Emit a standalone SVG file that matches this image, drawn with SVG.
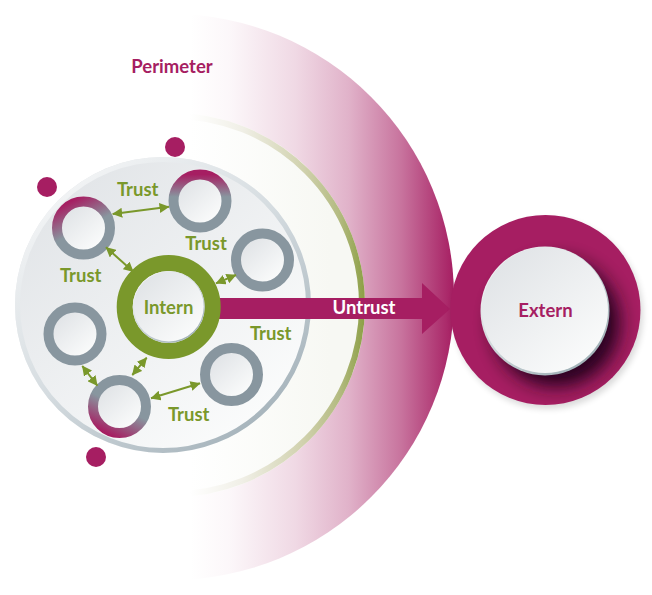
<svg xmlns="http://www.w3.org/2000/svg" width="652" height="595" viewBox="0 0 652 595">
<style>
.lbl{font-family:Lato,"Noto Sans","Liberation Sans",sans-serif;font-weight:700;text-anchor:middle}
.g{fill:#7a982b;font-size:18.500px}
.m{fill:#a61e62;font-size:18.500px}
.w{fill:#fff;font-size:18.500px}
.ring{fill:none;stroke-width:10}
.face{fill:url(#face)}
.conn{stroke:#7a982b;stroke-width:2;fill:none;marker-start:url(#ah);marker-end:url(#ah)}
</style>
<defs>
<linearGradient id="halo" gradientUnits="userSpaceOnUse" x1="190" y1="0" x2="454" y2="0">
<stop offset="0" stop-color="#a61e62" stop-opacity="0"/><stop offset=".15" stop-color="#a61e62" stop-opacity=".035"/><stop offset=".4" stop-color="#a61e62" stop-opacity=".17"/><stop offset=".6" stop-color="#a61e62" stop-opacity=".34"/><stop offset=".8" stop-color="#a61e62" stop-opacity=".62"/><stop offset="1" stop-color="#a61e62"/>
</linearGradient>
<linearGradient id="inner" gradientUnits="userSpaceOnUse" x1="190" y1="0" x2="330" y2="0">
<stop offset="0" stop-color="#fff"/><stop offset="1" stop-color="#f7f8f3"/>
</linearGradient>
<linearGradient id="perim" gradientUnits="userSpaceOnUse" x1="190" y1="0" x2="365" y2="0">
<stop offset="0" stop-color="#ffffff"/><stop offset=".3" stop-color="#f0efe6"/><stop offset=".65" stop-color="#d0d1ad"/><stop offset=".85" stop-color="#b4bb82"/><stop offset="1" stop-color="#8c9f45"/>
</linearGradient>
<linearGradient id="disc" x1=".15" y1=".1" x2=".85" y2=".9">
<stop offset="0" stop-color="#e2e5e8"/><stop offset="1" stop-color="#fbfcfc"/>
</linearGradient>
<linearGradient id="discEdge" x1=".1" y1=".05" x2=".85" y2=".95">
<stop offset="0" stop-color="#f6f7f8"/><stop offset=".5" stop-color="#d5dce0"/><stop offset="1" stop-color="#a3b1b9"/>
</linearGradient>
<linearGradient id="face" x1=".15" y1=".1" x2=".85" y2=".9">
<stop offset="0" stop-color="#e1e4e7"/><stop offset="1" stop-color="#fafbfb"/>
</linearGradient>
<linearGradient id="faceEdge" x1=".15" y1=".1" x2=".85" y2=".9">
<stop offset="0" stop-color="#f4f5f6"/><stop offset="1" stop-color="#9fb0b6"/>
</linearGradient>
<linearGradient id="rTopL" x1=".25" y1="0" x2=".5" y2=".5">
<stop offset="0" stop-color="#a61e62"/><stop offset="1" stop-color="#88969f"/>
</linearGradient>
<linearGradient id="rTop" x1=".5" y1="0" x2=".5" y2=".42">
<stop offset="0" stop-color="#a61e62"/><stop offset="1" stop-color="#88969f"/>
</linearGradient>
<linearGradient id="rBot" x1=".25" y1="1" x2=".5" y2=".5">
<stop offset="0" stop-color="#a61e62"/><stop offset="1" stop-color="#88969f"/>
</linearGradient>
<filter id="blur" x="-40%" y="-40%" width="180%" height="180%"><feGaussianBlur stdDeviation="9"/></filter>
<filter id="blurS" x="-20%" y="-20%" width="140%" height="140%"><feGaussianBlur stdDeviation="3"/></filter>
<clipPath id="extClip"><circle cx="545.5" cy="310" r="95"/></clipPath>
<marker id="ah" viewBox="0 0 10 10" refX="9.500" refY="5" markerWidth="10" markerHeight="10" markerUnits="userSpaceOnUse" orient="auto-start-reverse"><path d="M0 0L10 5L0 10Z" fill="#7a982b"/></marker>
</defs>

<g id="perimeter">
<circle cx="171" cy="297" r="283" fill="url(#halo)"/>
<circle cx="173" cy="305" r="192" fill="url(#inner)"/>
<circle cx="173" cy="305" r="189" fill="none" stroke="url(#perim)" stroke-width="6"/>
<text class="lbl m" x="172" y="72.500">Perimeter</text>
</g>

<g id="trust-zone">
<circle cx="163" cy="305" r="148" fill="url(#disc)"/>
<circle cx="163" cy="305" r="145.500" fill="none" stroke="url(#discEdge)" stroke-width="5"/>
</g>

<g id="dot-1"><circle cx="175" cy="147" r="10" fill="#a61e62"/></g>
<g id="dot-2"><circle cx="47" cy="187" r="10" fill="#a61e62"/></g>
<g id="dot-3"><circle cx="96" cy="457" r="10" fill="#a61e62"/></g>

<g id="node-a"><circle class="face" cx="83.500" cy="228" r="22"/><circle class="ring" cx="83.500" cy="228" r="26.500" stroke="url(#rTopL)"/></g>
<g id="node-b"><circle class="face" cx="200" cy="201" r="22"/><circle class="ring" cx="200" cy="201" r="26.500" stroke="url(#rTop)"/></g>
<g id="node-c"><circle class="face" cx="262.500" cy="260" r="22"/><circle class="ring" cx="262.500" cy="260" r="26.500" stroke="#88969f"/></g>
<g id="node-d"><circle class="face" cx="75" cy="334" r="22"/><circle class="ring" cx="75" cy="334" r="26.500" stroke="#88969f"/></g>
<g id="node-e"><circle class="face" cx="119.500" cy="406.500" r="22"/><circle class="ring" cx="119.500" cy="406.500" r="26.500" stroke="url(#rBot)"/></g>
<g id="node-f"><circle class="face" cx="231.500" cy="374.500" r="22"/><circle class="ring" cx="231.500" cy="374.500" r="26.500" stroke="#88969f"/></g>

<g id="connectors">
<path class="conn" d="M112.700 214L169 206.700"/>
<path class="conn" d="M106 247.300L133.300 271.700"/>
<path class="conn" d="M216 283.300L236 275"/>
<path class="conn" d="M146.700 357.700L132.300 375"/>
<path class="conn" d="M82.300 366L97.300 385.700"/>
<path class="conn" d="M151 398.300L200 383.300"/>
<path d="M219 298H422V283L450 309L422 334V319H219Z" fill="#a61e62"/>
</g>

<g id="intern">
<circle cx="168.700" cy="307" r="44" fill="none" stroke="#7a982b" stroke-width="16"/>
<circle cx="168.700" cy="307" r="36" fill="url(#faceEdge)"/>
<circle cx="168.700" cy="306.500" r="35" fill="url(#face)"/>
<text class="lbl g" x="168.500" y="314">Intern</text>
</g>

<g id="extern">
<circle cx="548" cy="314" r="95" fill="#000" opacity=".14" filter="url(#blurS)"/>
<circle cx="545.500" cy="310" r="95" fill="#a61e62"/>
<g clip-path="url(#extClip)"><circle cx="556" cy="323" r="64" fill="#22061a" opacity=".95" filter="url(#blur)"/></g>
<circle cx="545" cy="311" r="64.500" fill="url(#faceEdge)"/>
<circle cx="545" cy="310" r="63" fill="url(#face)"/>
<text class="lbl m" x="545.500" y="317">Extern</text>
</g>

<g id="labels">
<text class="lbl g" x="137.700" y="195.500">Trust</text>
<text class="lbl g" x="206" y="249.500">Trust</text>
<text class="lbl g" x="80.700" y="281.500">Trust</text>
<text class="lbl g" x="270.700" y="339.500">Trust</text>
<text class="lbl g" x="188.700" y="420.500">Trust</text>
<text class="lbl w" x="364" y="314">Untrust</text>
</g>
</svg>
